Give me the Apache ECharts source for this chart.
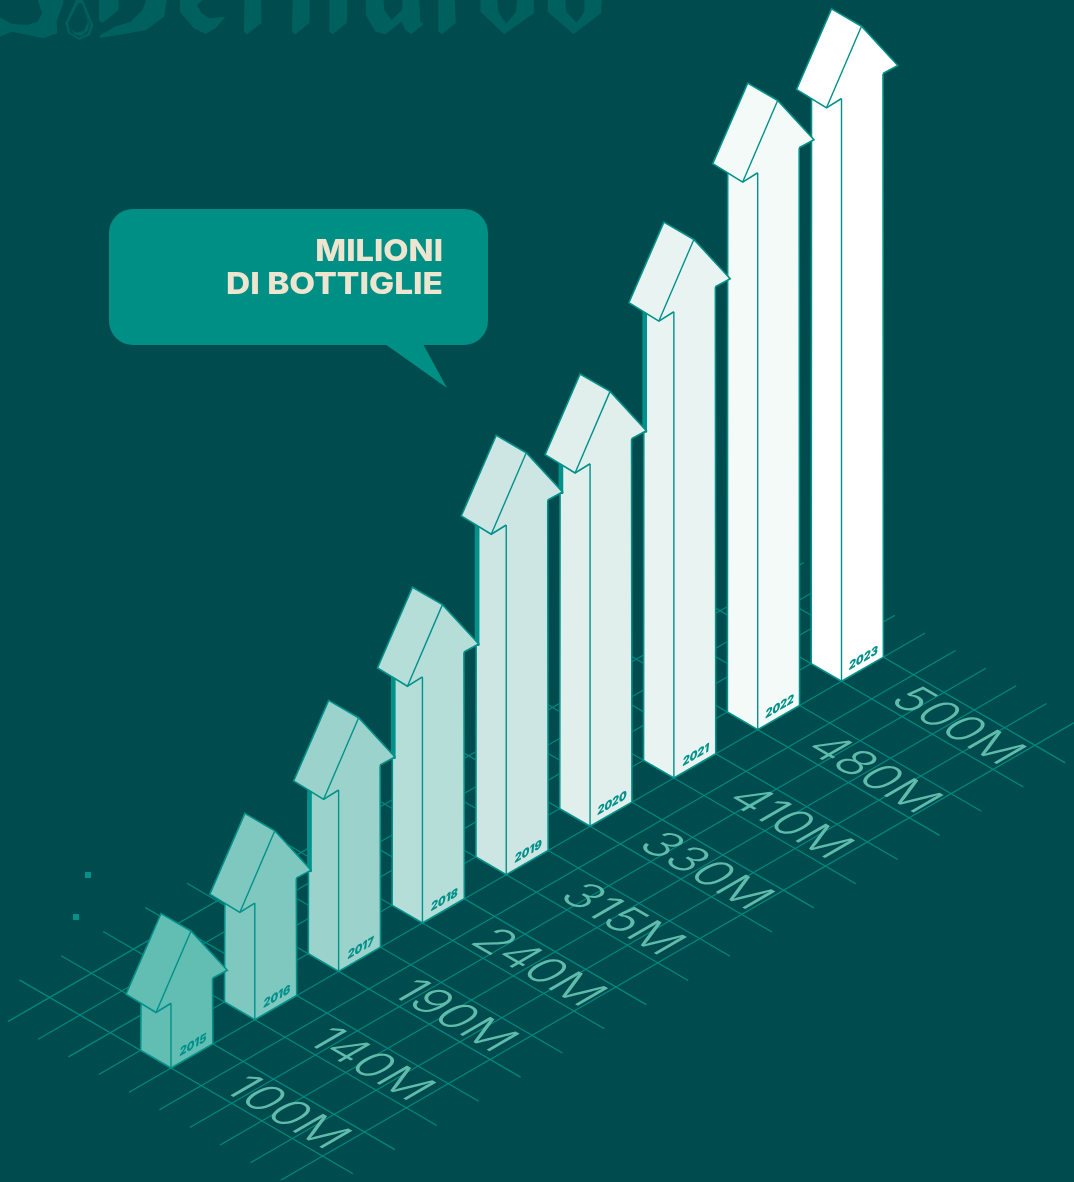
<!DOCTYPE html>
<html><head><meta charset="utf-8">
<style>html,body{margin:0;padding:0;background:#004b4d}#c{width:1074px;height:1182px}</style>
<script src="https://cdn.jsdelivr.net/npm/echarts@6/dist/echarts.min.js"></script>
</head><body><div id="c"></div>
<script>
// ---- data ----
const years = ['2015','2016','2017','2018','2019','2020','2021','2022','2023'];
// Arrow heights as drawn. The 2019 arrow is drawn about 320 tall although its printed label says 315M.
const values = [100,140,190,240,320,330,410,480,500];
const tickLabels = ['100M','140M','190M','240M','315M','330M','410M','480M','500M'];
const calloutLines = ['MILIONI','DI BOTTIGLIE'];
const arrowFills = ['#62bdb3','#7fc8bf','#9bd3cc','#b5ded9','#cde6e3','#e0eeec','#e9f4f2','#f4faf8','#ffffff'];

// ---- look ----
const BG='#004b4d', EDGE='#00918a', GRIDC='#00887e', LABELC='#5fbbab', LOGOC='#00605e';
const SKEW=48.34, UX=41.9, UY=-24.17, VX=30.33, VY=17.63;
const MINV=50;
const CALLOUT_STRETCH=[1.09,1.115];

function affine(ax,ay,bx,by){ // matrix with columns a,b as rotate-scale-rotate
  const E=ax*ax+ay*ay,F=ax*bx+ay*by,G=bx*bx+by*by;
  const phi=0.5*Math.atan2(2*F,E-G),c=Math.cos(phi),s=Math.sin(phi);
  const l1=Math.sqrt(E*c*c+2*F*c*s+G*s*s),l2=Math.sqrt(E*s*s-2*F*c*s+G*c*c);
  const ux=(ax*c+bx*s)/l1,uy=(ay*c+by*s)/l1;
  return {outer:-Math.atan2(uy,ux),sx:l1,sy:l2,inner:phi};
}
function skewText(x,y,m,text,style){
  const a=affine(m[0],m[1],m[2],m[3]);
  return {type:'group',x:x,y:y,rotation:a.outer,children:[{type:'group',scaleX:a.sx,scaleY:a.sy,children:[
    {type:'text',rotation:a.inner,style:Object.assign({text:text},style)}]}]};
}
function base(api,i,v){const p=api.coord([i,v]);return [p[0],p[1]-i*SKEW];}

function renderFloor(params,api){
  const O=base(api,0,MINV), kind=api.value(0), k=api.value(1);
  const P=(u,v)=>[O[0]+u*UX+v*VX,O[1]+u*UY+v*VY];
  const a=kind===0?P(k,-5):P(-1,k-4), b=kind===0?P(k,6):P(18,k-4);
  return {type:'line',shape:{x1:a[0],y1:a[1],x2:b[0],y2:b[1]},style:{stroke:GRIDC,lineWidth:1.25}};
}
function renderLabel(params,api){
  const i=api.value(0), p=base(api,i,MINV);
  return skewText(p[0]+115,p[1]+45,[0.866,0.5,-0.866,0.5],tickLabels[i],
    {fontFamily:'Inter',fontWeight:300,fontSize:48,fill:LABELC,align:'center',verticalAlign:'middle'});
}
function renderArrow(params,api){
  const i=api.value(0), v=api.value(1);
  const f=base(api,i,MINV), n=base(api,i,v), fill=arrowFills[i];
  const Q=(dx,dy)=>[n[0]+dx,n[1]+dy];
  const lb=[f[0]-VX,f[1]-VY], rb=[f[0]+UX,f[1]+UY];
  const head={F:Q(-15,9.3),L:Q(-45,-9),B:Q(-10,-89.7),R:Q(20,-72.3),T:Q(56.3,-33),W:Q(41.5,-25)};
  const pen={stroke:EDGE,lineWidth:1.6,fill:null,lineJoin:'miter'};
  const kids=[];
  // body fill, then its visible edges
  kids.push({type:'polygon',shape:{points:[lb,f,rb,head.W,head.R,head.F,Q(-30,0)]},style:{fill:fill}});
  kids.push({type:'polyline',shape:{points:[Q(-30,0),lb,f,rb,head.W]},style:pen});
  kids.push({type:'line',shape:{x1:f[0],y1:f[1],x2:n[0],y2:n[1]},style:{stroke:EDGE,lineWidth:1.4}});
  if(i>=2&&i<=6){ // strip on the wall where the previous arrow's tip meets it
    const prev=base(api,i-1,values[i-1]);
    const tipY=prev[1]-33;
    kids.push({type:'rect',shape:{x:f[0]-VX-1.2,y:n[1]-6,width:4.7,height:tipY-n[1]+8},style:{fill:EDGE}});
  }
  // head fill, then its edges, ridge and notch
  kids.push({type:'polygon',shape:{points:[head.F,head.L,head.B,head.R,head.T,head.W,n]},style:{fill:fill}});
  kids.push({type:'polyline',shape:{points:[n,head.F,head.L,head.B,head.R,head.T,head.W]},style:pen});
  kids.push({type:'line',shape:{x1:head.F[0],y1:head.F[1],x2:head.R[0],y2:head.R[1]},style:{stroke:EDGE,lineWidth:1.4}});
  kids.push(skewText(f[0]+22,f[1]-23,[0.866,-0.5,-0.12,1],years[i],
    {fontFamily:'Inter',fontWeight:900,fontSize:12.5,fill:EDGE,align:'center',verticalAlign:'middle'}));
  return {type:'group',children:kids};
}

const floorRows=[];
for(let k=0;k<18;k++)floorRows.push([0,k]);
for(let k=0;k<10;k++)floorRows.push([1,k]);

// cropped logo at the top edge (decoration, points in zoomed-crop units)
const logoShapes=[
 [[160,0],[160,10],[143,65],[145,100],[110,115],[70,105],[30,95],[0,110],[0,52],[30,72],[70,75],[95,65],[107,40],[95,0]],
 [[250,0],[300,0],[300,30],[258,70],[250,60]],
 [[370,0],[422,0],[415,50],[370,90],[300,105],[255,113],[250,108],[290,80],[330,65],[360,30]],
 [[455,0],[455,35],[490,85],[520,102],[545,85],[570,50],[530,55],[510,40],[498,15],[512,0]],
 [[618,0],[660,0],[662,68],[625,103],[617,95]],
 [[740,0],[783,0],[783,68],[748,103],[738,95]],
 [[833,0],[878,0],[878,68],[842,103],[833,95]],
 [[925,0],[970,0],[972,30],[990,60],[1017,30],[1018,0],[1060,0],[1063,65],[1072,72],[1040,103],[1025,90],[1015,65],[975,103],[950,95],[925,45]],
 [[1108,0],[1150,0],[1153,68],[1118,103],[1108,95]],
 [[1215,0],[1258,0],[1260,35],[1280,72],[1305,35],[1307,0],[1350,0],[1350,40],[1275,103],[1215,35]],
 [[1385,0],[1430,0],[1432,35],[1458,68],[1478,35],[1478,0],[1522,0],[1520,40],[1450,103],[1385,35]]
];
const dropOuter=[[192,0],[165,70],[172,100],[200,120],[228,105],[236,75],[210,0]];
const dropInner=[[198,10],[172,70],[178,98],[200,113],[222,100],[229,75],[207,10]];
const dropCore=[[208,20],[222,65],[212,92],[192,98],[175,82],[190,104],[205,108],[222,92],[226,70]];
const scalePts=a=>a.map(p=>[p[0]/2.529,p[1]/3]);
const graphics=logoShapes.concat([dropOuter]).map(s=>({type:'polygon',z:0,silent:true,shape:{points:scalePts(s)},style:{fill:LOGOC}}));
graphics.push({type:'polygon',z:0,silent:true,shape:{points:scalePts(dropInner)},style:{fill:BG}});
graphics.push({type:'polygon',z:0,silent:true,shape:{points:scalePts(dropCore)},style:{fill:LOGOC}});
graphics.push({type:'rect',z:0,silent:true,shape:{x:85,y:872,width:6,height:6},style:{fill:EDGE}});
graphics.push({type:'rect',z:0,silent:true,shape:{x:73,y:914,width:6,height:6},style:{fill:EDGE}});
graphics.push({type:'rect',z:5,silent:true,shape:{x:109,y:209,width:379,height:136,r:24},style:{fill:'#008f85'}});
graphics.push({type:'polygon',z:5,silent:true,shape:{points:[[385,344],[423,344],[447,388]]},style:{fill:'#008f85'}});
calloutLines.forEach((t,j)=>graphics.push({type:'text',z:6,silent:true,x:443,y:251.5+j*33,scaleX:CALLOUT_STRETCH[j],style:{text:t,fontFamily:'Inter',fontWeight:800,fontSize:30,fill:'#eee5d1',align:'right',verticalAlign:'middle'}}));

const chart=echarts.init(document.getElementById('c'),null,{renderer:'canvas',width:1074,height:1182});
chart.setOption({
  animation:false,backgroundColor:BG,
  grid:{left:171,right:232.5,top:96.75,bottom:114},
  xAxis:{type:'category',data:years,boundaryGap:false,show:false},
  yAxis:{type:'value',min:MINV,max:800,show:false},
  graphic:graphics,
  tooltip:{show:false},
  series:[
    {type:'custom',name:'floor',z:1,silent:true,coordinateSystem:'cartesian2d',renderItem:renderFloor,data:floorRows,encode:{x:-1,y:-1}},
    {type:'custom',name:'labels',z:2,silent:true,renderItem:renderLabel,data:values.map((v,i)=>[i,v]),encode:{x:0,y:1}},
    {type:'custom',name:'bottiglie',z:3,renderItem:renderArrow,data:values.map((v,i)=>[i,v]).reverse(),encode:{x:0,y:1}}
  ]
});
</script></body></html>
